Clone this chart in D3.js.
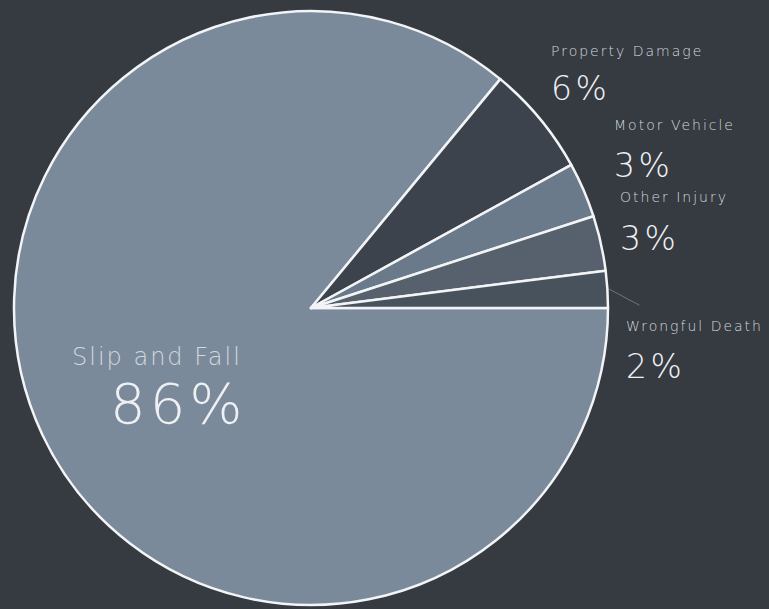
<!DOCTYPE html>
<html>
<head>
<meta charset="utf-8">
<script src="https://cdn.jsdelivr.net/npm/d3@7"></script>
<style>
  html, body { margin: 0; padding: 0; background: #363a41; }
  svg { display: block; }
  text { font-family: "DejaVu Sans", sans-serif; font-weight: 200; fill: #dfe3e8; }
</style>
</head>
<body>
<div id="chart"></div>
<script>
// data
var categories = ["Slip and Fall", "Property Damage", "Motor Vehicle", "Other Injury", "Wrongful Death"];
var values = [86, 6, 3, 3, 2];
var colors = ["#7a8a9a", "#3c434c", "#6b7a8a", "#56616d", "#48525d"];

// label placement (layout only)
var labelPos = {
  "Slip and Fall":   {x: 72,  y: 365, nameSize: 24, nameLs: 2, pctSize: 56, pctLs: 4,   pctDx: 38, pctDy: 58},
  "Property Damage": {x: 551, y: 56,  nameSize: 14, nameLs: 2, pctSize: 33, pctLs: 3.5, pctDx: 0,  pctDy: 44},
  "Motor Vehicle":   {x: 614, y: 130, nameSize: 14, nameLs: 2, pctSize: 33, pctLs: 3.5, pctDx: 0,  pctDy: 47},
  "Other Injury":    {x: 620, y: 202, nameSize: 14, nameLs: 2, pctSize: 33, pctLs: 3.5, pctDx: 0,  pctDy: 48},
  "Wrongful Death":  {x: 626, y: 331, nameSize: 14, nameLs: 2, pctSize: 33, pctLs: 3.5, pctDx: 0,  pctDy: 47}
};

var width = 769, height = 609;
var cx = 311, cy = 308, radius = 297;

var data = categories.map(function(c, i){ return {name: c, value: values[i], color: colors[i]}; });

var svg = d3.select("#chart").append("svg")
    .attr("width", width)
    .attr("height", height);

var g = svg.append("g").attr("transform", "translate(" + cx + "," + cy + ")");

// start at 3 o'clock, go clockwise
var pie = d3.pie()
    .sort(null)
    .value(function(d){ return d.value; })
    .startAngle(Math.PI / 2)
    .endAngle(Math.PI / 2 + 2 * Math.PI);

var arc = d3.arc().innerRadius(0).outerRadius(radius);

var arcs = pie(data);

g.selectAll("path.slice")
  .data(arcs)
  .enter().append("path")
    .attr("class", "slice")
    .attr("d", arc)
    .attr("fill", function(d){ return d.data.color; })
    .attr("stroke", "#f2f4f6")
    .attr("stroke-width", 2.5)
    .attr("stroke-linejoin", "round");

// small leader for the thinnest slice
var last = arcs[arcs.length - 1];
var mid = (last.startAngle + last.endAngle) / 2;
var p0 = [Math.sin(mid) * (radius + 2), -Math.cos(mid) * (radius + 2)];
g.append("line")
  .attr("x1", p0[0]).attr("y1", p0[1])
  .attr("x2", p0[0] + 30).attr("y2", p0[1] + 16)
  .attr("stroke", "#6d7580")
  .attr("stroke-width", 1);

// labels
arcs.forEach(function(d){
  var lp = labelPos[d.data.name];
  svg.append("text")
    .attr("x", lp.x).attr("y", lp.y)
    .style("font-size", lp.nameSize + "px")
    .style("letter-spacing", lp.nameLs + "px")
    .style("fill", "#d3d8de")
    .text(d.data.name);
  svg.append("text")
    .attr("x", lp.x + lp.pctDx).attr("y", lp.y + lp.pctDy)
    .style("font-size", lp.pctSize + "px")
    .style("letter-spacing", lp.pctLs + "px")
    .style("fill", "#eef0f3")
    .text(d.data.value + "%");
});
</script>
</body>
</html>
